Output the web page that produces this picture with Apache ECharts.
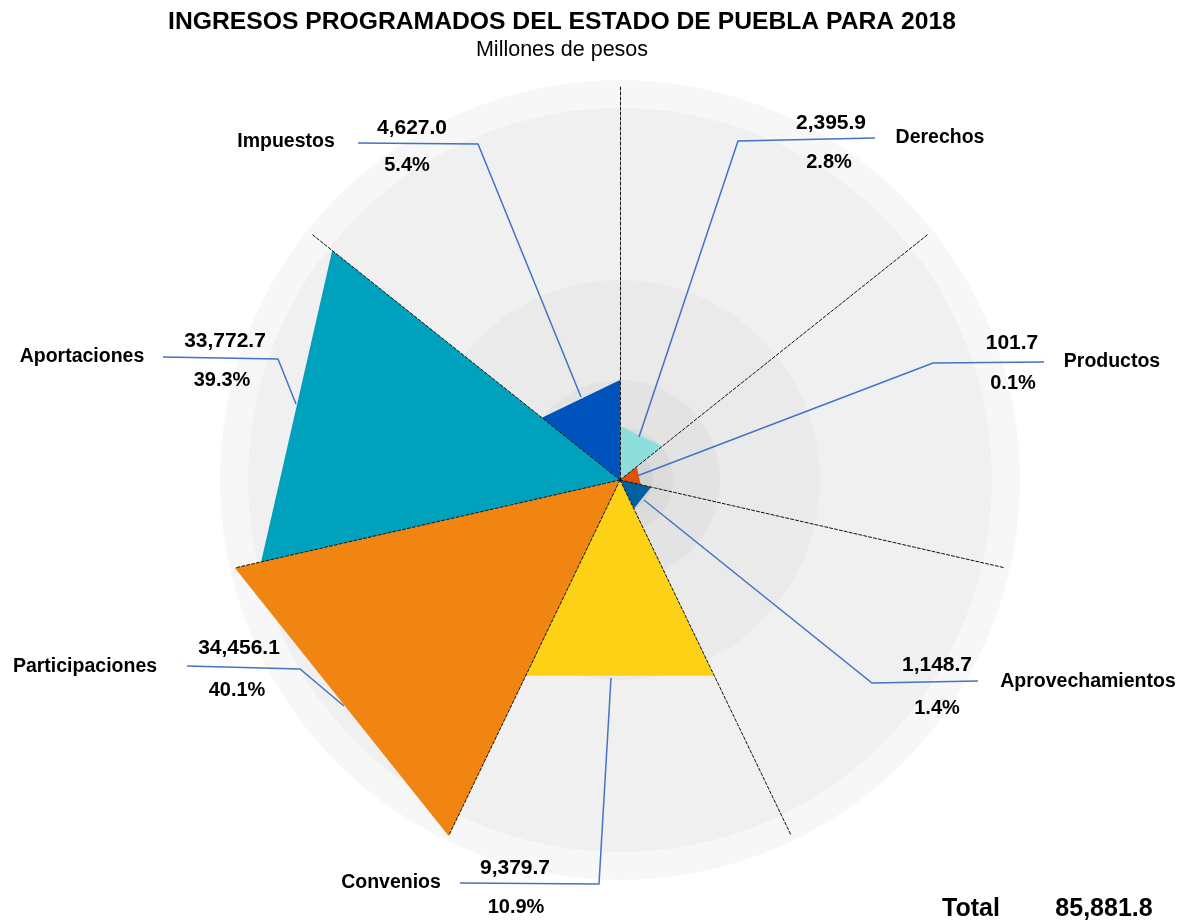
<!DOCTYPE html>
<html>
<head>
<meta charset="utf-8">
<script src="https://cdn.jsdelivr.net/npm/echarts@6/dist/echarts.min.js"></script>
<style>
html,body{margin:0;padding:0;background:#fff;}
#grafica{width:1182px;height:924px;}
</style>
</head>
<body>
<div id="grafica"></div>
<script>
// datos
var categorias = ['Impuestos', 'Derechos', 'Productos', 'Aprovechamientos', 'Convenios', 'Participaciones', 'Aportaciones'];
var montos = [4627.0, 2395.9, 101.7, 1148.7, 9379.7, 34456.1, 33772.7];
var porcentajes = [5.4, 2.8, 0.1, 1.4, 10.9, 40.1, 39.3];
// largo de cada cuña en la gráfica radial (escala 0-100)
var alcance = [25.3, 13.7, 5.4, 8.1, 55.0, 100, 93.2];

var colores = ['#0052BD', '#8EDFDB', '#E0520A', '#0060A0', '#FCD116', '#F08512', '#00A1BD'];

// posiciones de etiquetas y líneas guía
var etiquetas = [
	{ nombre: [286, 142], monto: [412, 128], pct: [407, 165], guia: [[358, 143], [478, 144], [581, 397]] },
	{ nombre: [940, 138], monto: [831, 123], pct: [829, 162], guia: [[875, 138], [738, 141], [639, 437]] },
	{ nombre: [1112, 362], monto: [1012, 343], pct: [1013, 383], guia: [[1044, 362], [933, 363], [637, 476]] },
	{ nombre: [1088, 682], monto: [937, 665], pct: [937, 708], guia: [[978, 681], [872, 683], [644, 500]] },
	{ nombre: [391, 883], monto: [515, 868], pct: [516, 907], guia: [[460, 883], [599, 884], [611, 678]] },
	{ nombre: [85, 667], monto: [239, 648], pct: [237, 690], guia: [[187, 666], [300, 669], [344, 706]] },
	{ nombre: [82, 357], monto: [225, 341], pct: [222, 380], guia: [[163, 357], [278, 359], [296, 404]] }
];

var centro = [620, 480];
var radio = 395;
var n = categorias.length;

function fmt(v) {
	return v.toLocaleString('en-US', { minimumFractionDigits: 1, maximumFractionDigits: 1 });
}

// ejes de radar: echarts los acomoda en sentido antihorario, las cuñas van en horario
function ejeEcharts(k) {
	return (n - k) % n;
}

var indicadores = [];
for (var k = 0; k < n; k++) {
	indicadores.push({ name: '', max: 100, min: 0 });
}

var cunas = [];
for (var i = 0; i < n; i++) {
	var v = [0, 0, 0, 0, 0, 0, 0];
	v[ejeEcharts((i + n - 1) % n)] = alcance[i];
	v[ejeEcharts(i)] = alcance[i];
	cunas.push({
		name: categorias[i],
		value: v,
		symbol: 'none',
		lineStyle: { width: 0 },
		areaStyle: { color: colores[i], opacity: 1 }
	});
}

var total = montos.reduce(function (a, b) { return a + b; }, 0);

var fuente = '"Liberation Sans", Arial, sans-serif';
function texto(x, y, t, font) {
	return {
		type: 'text', x: x, y: y, z: 100,
		style: {
			text: t, fill: '#000', font: font,
			align: 'center', verticalAlign: 'middle',
			textAlign: 'center', textVerticalAlign: 'middle'
		}
	};
}

var elementos = [];
// anillos de fondo
var anillos = [[400, '#f7f7f7'], [372, '#f0f0f0'], [200, '#eaeaea'], [100, '#e3e3e3'], [53, '#dbdbdb'], [33, '#d3d3d3']];
anillos.forEach(function (a, j) {
	elementos.push({
		type: 'circle', z: j, silent: true,
		shape: { cx: centro[0], cy: centro[1], r: a[0] },
		style: { fill: a[1] }
	});
});

elementos.push(texto(562, 22, 'INGRESOS PROGRAMADOS DEL ESTADO DE PUEBLA PARA 2018', 'bold 24.7px ' + fuente));
elementos.push(texto(562, 50, 'Millones de pesos', '21.5px ' + fuente));

for (var i = 0; i < n; i++) {
	var e = etiquetas[i];
	elementos.push({
		type: 'polyline', z: 90, silent: true,
		shape: { points: e.guia },
		style: { stroke: '#4472C4', lineWidth: 1.5, fill: null }
	});
	elementos.push(texto(e.nombre[0], e.nombre[1], categorias[i], 'bold 19.5px ' + fuente));
	elementos.push(texto(e.monto[0], e.monto[1], fmt(montos[i]), 'bold 21px ' + fuente));
	elementos.push(texto(e.pct[0], e.pct[1], porcentajes[i].toFixed(1) + '%', 'bold 20px ' + fuente));
}

elementos.push(texto(971, 909, 'Total', 'bold 25px ' + fuente));
elementos.push(texto(1104, 909, fmt(total), 'bold 25px ' + fuente));

var grafica = echarts.init(document.getElementById('grafica'));
grafica.setOption({
	backgroundColor: '#fff',
	animation: false,
	radar: {
		z: 30,
		center: centro,
		radius: radio,
		startAngle: 90,
		shape: 'polygon',
		indicator: indicadores,
		axisName: { show: false },
		splitLine: { show: false },
		splitArea: { show: false },
		axisLine: {
			lineStyle: { color: '#111', width: 1, type: [3, 2] }
		}
	},
	graphic: { elements: elementos },
	series: [{
		type: 'radar',
		z: 20,
		silent: true,
		data: cunas
	}]
});
</script>
</body>
</html>
